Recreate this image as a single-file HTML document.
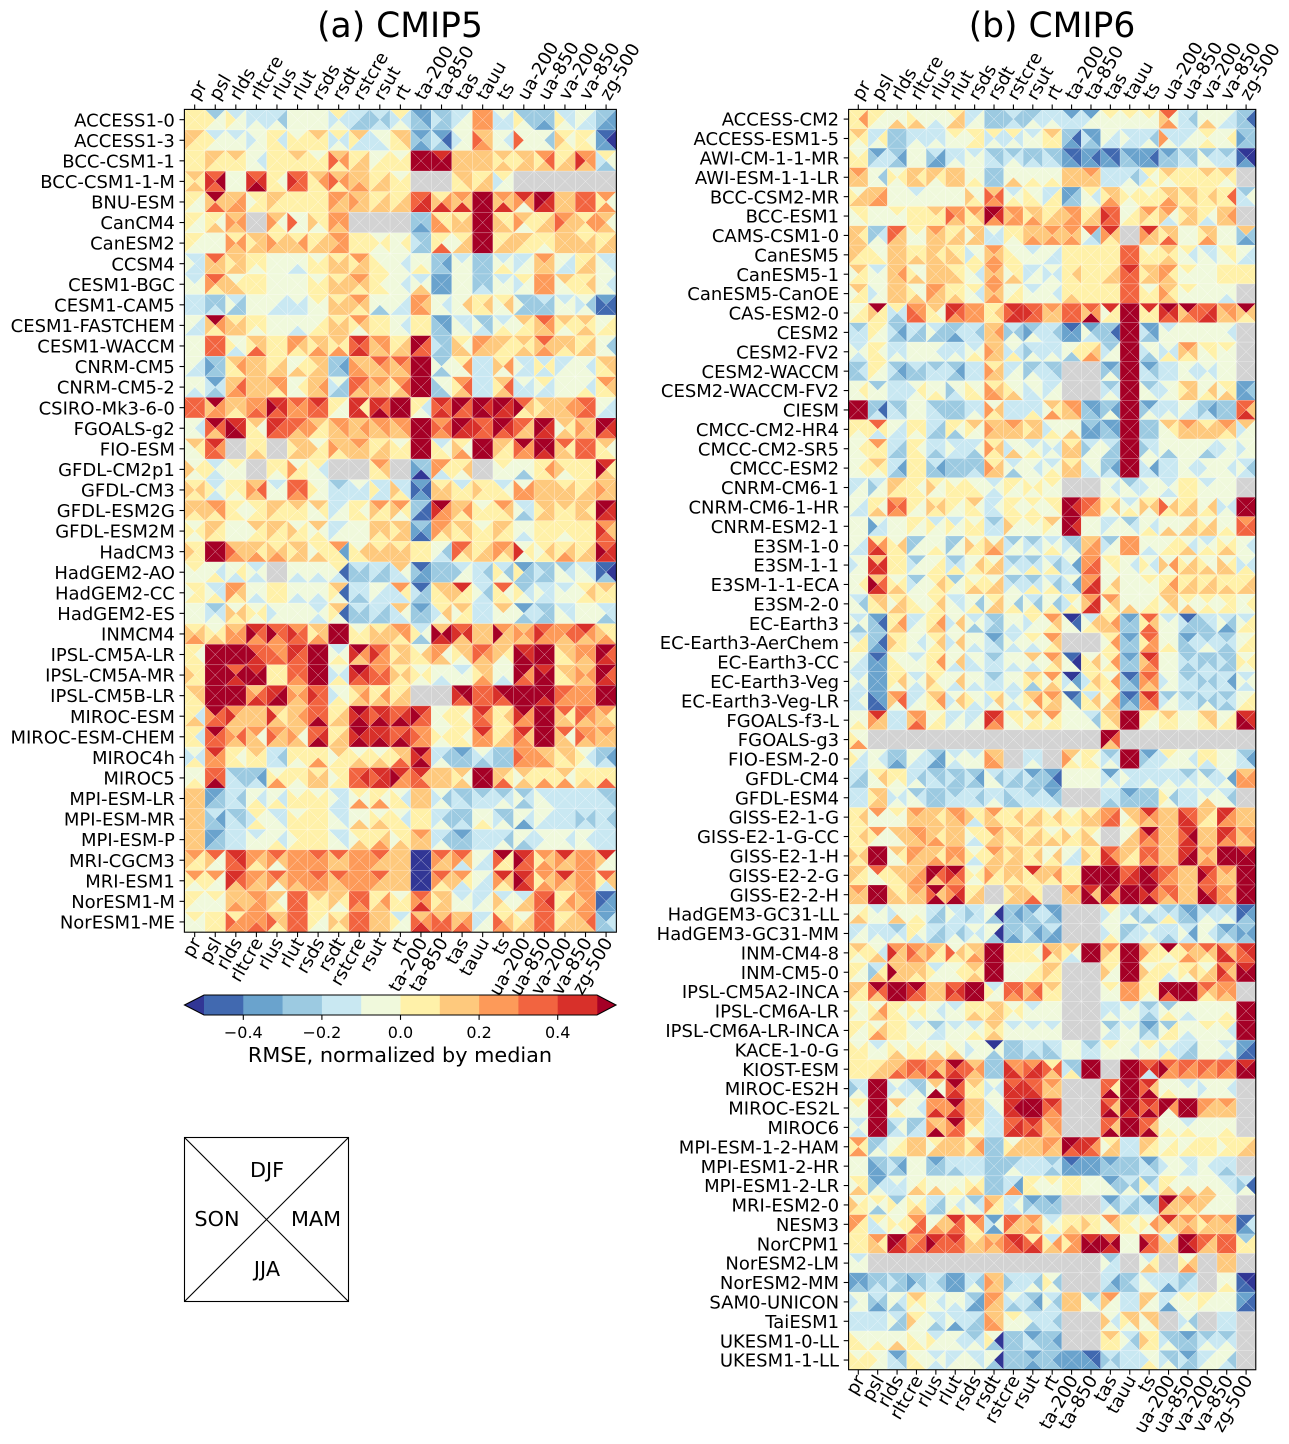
<!DOCTYPE html>
<html lang="en">
<head>
<meta charset="utf-8">
<title>CMIP5 and CMIP6 RMSE portrait plot</title>
<style>
html,body{margin:0;padding:0;background:#fff}
svg{display:block;font-family:"DejaVu Sans","Liberation Sans",sans-serif;fill:#000}
</style>
</head>
<body>
<svg id="chart" xmlns="http://www.w3.org/2000/svg" width="1289" height="1444" viewBox="0 0 1289 1444"></svg>
<script>
const n = null;
const variables = ["pr","psl","rlds","rltcre","rlus","rlut","rsds","rsdt","rstcre","rsut","rt","ta-200","ta-850","tas","tauu","ts","ua-200","ua-850","va-200","va-850","zg-500"];
const seasons = ["DJF","MAM","JJA","SON"];
const colorBins = ["#313695","#4169b0","#6aa3cd","#9ccae1","#c9e8f2","#f0f9dc","#fff1a9","#fec97d","#fd9a59","#f26440","#d8302a","#a50026"];
const colorbarTicks = [-0.4,-0.2,0,0.2,0.4];
const models5 = ["ACCESS1-0","ACCESS1-3","BCC-CSM1-1","BCC-CSM1-1-M","BNU-ESM","CanCM4","CanESM2","CCSM4","CESM1-BGC","CESM1-CAM5","CESM1-FASTCHEM","CESM1-WACCM","CNRM-CM5","CNRM-CM5-2","CSIRO-Mk3-6-0","FGOALS-g2","FIO-ESM","GFDL-CM2p1","GFDL-CM3","GFDL-ESM2G","GFDL-ESM2M","HadCM3","HadGEM2-AO","HadGEM2-CC","HadGEM2-ES","INMCM4","IPSL-CM5A-LR","IPSL-CM5A-MR","IPSL-CM5B-LR","MIROC-ESM","MIROC-ESM-CHEM","MIROC4h","MIROC5","MPI-ESM-LR","MPI-ESM-MR","MPI-ESM-P","MRI-CGCM3","MRI-ESM1","NorESM1-M","NorESM1-ME"];
const models6 = ["ACCESS-CM2","ACCESS-ESM1-5","AWI-CM-1-1-MR","AWI-ESM-1-1-LR","BCC-CSM2-MR","BCC-ESM1","CAMS-CSM1-0","CanESM5","CanESM5-1","CanESM5-CanOE","CAS-ESM2-0","CESM2","CESM2-FV2","CESM2-WACCM","CESM2-WACCM-FV2","CIESM","CMCC-CM2-HR4","CMCC-CM2-SR5","CMCC-ESM2","CNRM-CM6-1","CNRM-CM6-1-HR","CNRM-ESM2-1","E3SM-1-0","E3SM-1-1","E3SM-1-1-ECA","E3SM-2-0","EC-Earth3","EC-Earth3-AerChem","EC-Earth3-CC","EC-Earth3-Veg","EC-Earth3-Veg-LR","FGOALS-f3-L","FGOALS-g3","FIO-ESM-2-0","GFDL-CM4","GFDL-ESM4","GISS-E2-1-G","GISS-E2-1-G-CC","GISS-E2-1-H","GISS-E2-2-G","GISS-E2-2-H","HadGEM3-GC31-LL","HadGEM3-GC31-MM","INM-CM4-8","INM-CM5-0","IPSL-CM5A2-INCA","IPSL-CM6A-LR","IPSL-CM6A-LR-INCA","KACE-1-0-G","KIOST-ESM","MIROC-ES2H","MIROC-ES2L","MIROC6","MPI-ESM-1-2-HAM","MPI-ESM1-2-HR","MPI-ESM1-2-LR","MRI-ESM2-0","NESM3","NorCPM1","NorESM2-LM","NorESM2-MM","SAM0-UNICON","TaiESM1","UKESM1-0-LL","UKESM1-1-LL"];
// Each cell: one bin index for all seasons, or [DJF,MAM,JJA,SON]. Value = (bin + 0.5) / 10; null = missing.
const values5 = [
[0,[-3,-1,-1,0],[-2,-1,-1,0],[-2,-2,-1,-2],[-2,-3,-1,-2],-1,-1,[0,-2,-1,-2],[-2,-3,-3,-2],[-2,-3,-2,-3],[0,-2,-1,-2],[-4,-4,-3,-3],[-3,-3,-3,-2],[-2,-1,-1,-2],2,[-1,-2,-2,-2],[-3,-3,-1,0],[-3,-3,-4,-3],[-2,-2,-1,0],[-1,-2,-2,-1],[-3,-4,-4,-3]],
[[1,0,0,1],[-2,-1,-1,0],[-2,-1,-1,-1],[-1,-1,-1,-2],[0,-2,0,0],[-1,0,0,0],[1,0,0,0],[0,-2,-1,-2],[1,-2,-2,0],[-1,-1,-2,-2],[1,1,0,0],[-4,-3,-4,-3],[-4,-5,-3,-2],[-1,-1,-1,-2],[1,1,2,3],[-1,-2,-1,-1],[-1,-1,-1,3],[-1,-3,-1,-1],[0,-1,0,1],[0,-1,0,0],[-5,-6,-4,-4]],
[0,[1,0,0,1],[1,0,0,0],[-1,-2,-1,-1],[0,0,0,0],[1,0,0,0],[-1,0,0,0],[1,2,0,3],[0,1,1,0],[-1,0,0,-1],[-1,0,0,0],5,[4,5,5,5],1,1,[1,0,1,0],[1,1,1,0],[2,3,1,0],[0,1,1,0],[2,2,1,4],[0,-1,-3,-2]],
[[1,0,1,0],[3,5,3,4],-1,[3,4,5,4],[0,-1,0,0],[3,3,3,4],[1,2,0,0],[1,2,0,3],[1,1,2,1],[0,1,1,0],[-1,0,0,0],n,n,[1,1,0,0],[0,1,1,0],[0,-1,-1,-2],n,n,n,n,n],
[[0,-1,-1,0],[5,1,3,1],[1,2,2,1],[0,0,0,-1],[1,0,0,1],0,0,[2,1,1,2],[1,1,1,2],[0,1,1,0],[0,1,1,0],[3,4,4,3],[0,2,4,1],[2,1,4,1],5,[2,1,4,1],[4,2,-1,2],[5,4,4,5],[1,1,1,1],[3,3,3,3],[2,-1,2,0]],
[[0,-1,-1,0],[0,-1,1,0],[1,2,1,2],n,[1,-1,0,2],[-1,-1,-1,3],[0,0,-1,1],[2,2,1,2],n,n,n,[-3,-3,-4,-3],[0,0,2,2],[0,1,1,1],5,[0,0,1,1],[1,0,-1,2],[0,1,1,0],[2,1,1,3],[0,2,0,1],[1,-1,1,2]],
[[0,-1,-1,0],-1,[0,2,1,2],[1,1,1,0],[0,1,1,2],[0,2,1,1],[0,1,1,0],[2,2,2,1],[0,0,0,0],[-1,0,-1,0],[-1,0,-1,-1],[-3,-3,-3,-2],[0,-1,3,0],[0,1,1,-1],5,[0,1,1,0],[1,0,0,1],[0,0,-1,0],[1,1,1,1],[0,1,1,1],[0,1,1,0]],
[[-2,-2,-2,-1],[3,1,1,1],[1,1,1,0],[0,0,-1,0],-1,[-1,-1,-2,-1],[-1,0,0,0],[0,1,1,1],[2,1,1,0],[-1,-1,0,0],[-1,-2,-1,-1],[-1,-1,0,-1],[-3,-4,-3,-3],[-2,-1,-1,-1],[-3,-3,-3,-3],[-2,-1,0,-1],[-2,-1,-1,-2],[2,1,1,1],[-1,-2,-2,-1],[0,1,1,0],[-2,-2,-1,-1]],
[[-2,-1,-1,-1],[3,1,0,2],[-1,0,1,1],[0,0,0,0],-1,-1,[-1,0,0,0],[0,1,1,1],[2,1,0,1],[0,-1,0,0],[-1,-2,-1,-1],[-2,-1,1,-1],[-4,-4,-4,-4],[-1,-1,-1,-1],[-3,-3,-2,-3],[-2,-1,-1,-1],[0,-1,-1,-2],[2,2,2,2],[1,0,-1,-1],[0,1,0,0],[-1,-2,-1,-1]],
[-2,[-3,-3,-2,-3],[-2,-3,-3,-1],-1,[-1,-2,-2,-1],[-1,-2,-2,-2],[0,-1,-1,-1],[0,1,1,1],[2,1,0,1],[-1,-1,-3,-1],[-1,-2,-2,-1],[2,1,2,2],[-1,-2,-1,-1],[-1,1,-1,-1],[0,1,0,0],[0,1,-1,-1],[-3,-3,-3,-1],[-2,-3,-3,-3],[-2,-1,-1,-1],[-1,-3,-1,-2],[-4,-5,-5,-5]],
[[-1,-2,-2,-1],[5,2,0,1],[0,1,1,1],[0,0,-1,0],-1,[-1,-1,-2,-1],[-1,0,0,-1],[0,1,1,1],[2,1,-1,0],[0,0,0,0],[-1,-2,-1,-1],0,[-4,-4,-3,-3],[-2,-2,-1,-1],[-3,-3,-2,-1],[-2,-1,0,-1],[1,0,0,-1],[3,2,1,1],[1,0,-1,0],[1,0,1,0],[-1,0,0,-1]],
[-1,[3,3,3,3],[-1,-1,-2,0],[1,1,3,0],0,[2,1,0,2],[1,1,2,0],[1,0,2,0],[4,3,4,3],[2,2,1,1],[0,1,1,0],[5,3,3,5],[-3,-3,-3,-2],[0,-1,1,1],[2,1,1,2],[1,0,0,1],[1,0,1,0],[3,1,2,1],[1,1,0,1],[0,1,1,0],[-1,-3,-1,-1]],
[[-1,-2,-2,-1],[-3,-3,-3,-4],[1,2,0,0],[1,1,1,1],[0,1,1,0],[-1,0,1,-1],[1,1,1,0],[-3,-4,-3,-3],[1,1,2,2],[3,2,1,1],[3,2,1,1],[5,5,5,5],[-3,-1,-3,-1],[0,2,-1,-1],-2,[0,2,-1,1],[-2,-2,-2,-1],[-2,0,-2,0],[-2,-1,-1,-2],[-1,-2,-1,-1],[1,1,0,0]],
[[-1,-1,-2,-1],[-4,-2,-3,-2],[1,3,2,1],[1,1,1,1],[2,2,0,1],[-1,0,-1,-1],[1,2,1,1],[-1,-3,-3,-2],[3,2,1,3],[2,1,1,1],[2,3,1,0],5,[-1,-1,-3,-3],[2,3,1,0],[-2,-2,-2,-2],[1,3,1,0],[-1,-2,-2,-2],[0,-2,-2,-1],[-1,-1,-1,-1],[-1,-2,0,-1],[2,1,0,0]],
[[3,3,3,3],[5,2,2,1],[1,1,0,1],[2,2,3,2],[4,4,3,5],[3,2,2,2],[4,3,3,3],[0,-1,-1,0],[4,0,4,4],[4,3,5,4],[5,5,5,5],[0,-2,-1,0],[4,3,4,3],[5,3,3,5],[5,4,5,5],[5,4,4,5],[3,1,0,5],[1,1,1,0],[1,2,1,1],[3,3,3,2],[-1,-2,-2,-1]],
[[-1,-2,-1,-1],[5,3,1,3],[4,4,5,5],[1,-1,0,0],[4,3,3,4],[3,2,1,3],[1,0,0,2],[2,2,1,1],[1,2,1,1],[2,2,1,1],[2,2,1,1],5,[2,3,2,3],[5,4,4,5],[3,3,3,4],[5,4,3,5],[3,1,1,3],[5,4,4,5],[1,0,1,-1],[1,1,1,2],[5,4,3,5]],
[[1,0,-1,-1],[4,2,3,3],n,[0,0,1,0],n,[1,1,1,0],[-1,0,0,1],[1,1,0,2],[2,1,1,1],[0,1,1,0],[-1,0,0,0],5,[-2,-1,0,0],[0,-1,2,1],5,[1,0,0,1],[5,2,2,3],[5,5,4,5],[3,0,1,1],[3,3,3,3],[1,-1,0,0]],
[[-1,0,-1,1],[-2,-1,-2,0],[0,-1,-1,-1],n,[0,0,-1,0],[-1,0,0,2],[0,-2,-1,-1],n,n,[2,1,0,0],n,[-3,-3,-6,-4],[2,0,-2,2],[0,1,-1,0],n,[0,-1,-1,-1],[-1,-1,-3,-1],[0,2,0,0],[0,0,-1,1],[0,0,0,0],[4,0,1,5]],
[[0,1,0,1],[-2,-1,-2,0],[0,0,-1,0],[1,3,1,2],[-2,-1,-1,-1],[3,3,2,3],[-1,-1,-1,0],[-3,-2,-2,-2],[-1,-2,-2,-2],[-2,-2,-2,0],[-2,-2,0,1],[-4,-5,-4,-5],[0,1,1,1],[-2,0,0,0],[0,0,0,1],[-2,-1,0,0],[-1,2,2,2],[1,1,1,1],[0,1,1,1],[0,1,1,0],[1,1,1,2]],
[[1,1,0,1],[2,2,0,1],[0,-1,0,0],[0,0,0,-1],[1,0,0,1],[1,0,0,0],[1,0,-1,-1],[-2,-1,-1,-2],[0,-1,0,0],[2,0,0,1],[2,0,-1,1],[-3,-5,-5,-3],[5,2,2,4],[1,2,0,1],[-1,0,0,0],[2,1,0,0],[-2,-2,-3,-1],[1,1,1,0],[1,0,0,0],[1,0,1,1],[5,4,4,5]],
[[-1,0,-1,0],[1,0,0,1],-1,[1,0,0,-1],[1,0,0,1],[-1,0,0,1],[1,-1,0,-1],[-2,-1,-1,-2],[-1,-1,-1,-1],[1,1,0,1],[1,1,1,0],[-3,-4,-5,-4],[2,1,0,2],[1,1,0,0],[-1,0,0,0],[1,0,0,1],[-1,-1,-2,-1],[0,0,0,0],[0,0,-1,0],[0,0,0,0],[2,1,3,4]],
[[0,0,0,1],5,[1,1,2,3],[1,0,2,1],[0,1,2,1],[1,1,1,0],[0,0,1,-1],[2,-4,0,0],[-1,1,0,0],[0,1,1,1],[0,1,1,1],0,[-1,-3,-2,-1],[3,1,0,3],[0,1,1,0],[2,1,0,2],[-1,0,-1,4],[0,1,0,-1],[0,1,2,0],[0,1,1,0],[3,4,4,5]],
[[0,-1,-1,-1],[-1,-2,0,-1],[-1,0,-2,-1],[-2,-1,-2,-1],n,[-1,-1,-2,-1],[-1,-1,-2,-1],[0,-5,-2,-1],[-2,-3,-3,-3],[-2,-3,-3,-2],[1,-1,-2,-2],[-5,-4,-4,-3],[-3,-3,-3,-3],[-2,-1,-1,-3],[-2,-3,-2,-2],[-2,-3,-1,0],[-4,-3,-3,0],[-3,-3,-3,-2],[-3,-2,-1,-1],[-2,-2,-1,-1],[-5,-6,-3,-5]],
[[0,0,0,-1],[-2,-2,0,-1],[2,1,0,2],[-1,-1,-2,-1],0,[-1,-1,-2,-1],[-1,-1,-2,-1],[1,-5,-1,0],[-2,-2,-3,-2],[-1,-2,-2,-1],[2,0,-2,-2],[-5,-3,-3,-2],[1,1,0,0],[4,0,0,1],[-2,-3,-2,-1],[3,-1,0,0],[-3,-2,-1,0],[-2,-2,-2,-1],[-2,-1,-1,-1],[0,1,0,-1],[1,0,0,0]],
[-1,[-3,-2,-1,-2],[-1,1,0,1],[-1,0,-1,0],[-1,-1,-1,-2],-1,[-2,-1,-2,-1],[1,-5,-1,0],[-2,-3,-3,-3],[-2,-3,-3,-2],[1,-1,-2,-2],[-4,-3,-3,-3],[0,1,-1,-2],[1,0,0,-1],[-2,-2,-2,-2],[1,-1,-1,-1],[-4,-2,-3,-1],[-3,-3,-3,-2],[-2,-2,-1,-1],-1,[-2,-2,-3,-1]],
[[0,1,2,1],[-1,0,1,0],[1,2,2,2],[4,3,2,5],[3,3,2,5],[2,3,3,4],[1,1,2,0],5,[-1,0,0,0],[0,1,1,1],[2,2,0,1],[-2,-1,-3,0],[1,5,4,5],[3,4,1,4],[1,1,1,1],[2,1,1,5],[1,2,1,2],[3,2,2,4],[2,3,1,2],[4,2,1,3],[0,0,2,1]],
[[0,-1,0,0],5,5,[3,3,4,5],[2,2,3,3],[4,3,3,4],5,[-2,-1,0,-1],[5,2,1,4],[3,2,2,4],[1,1,1,0],[-1,1,0,0],[2,-1,1,2],[1,1,-1,0],[3,2,1,3],[1,0,-1,1],[4,4,5,5],5,[1,1,0,0],[2,2,1,2],[5,3,4,5]],
[[0,0,0,1],5,[3,5,4,5],[4,5,5,5],0,[3,3,2,3],5,[-1,-2,0,-2],[5,4,3,4],[2,3,3,3],[0,1,0,1],[-1,0,-1,0],[-1,-1,-2,-1],[-2,-1,-1,-1],[1,1,2,0],[-1,-1,-2,-1],[5,2,3,5],[4,5,5,5],[1,1,0,0],[1,2,1,2],[5,3,4,5]],
[[1,1,0,0],5,[5,5,5,5],[1,3,4,2],[4,5,5,4],[1,2,1,2],[3,3,3,4],[-1,-1,0,-2],[1,2,1,0],[0,2,1,0],[0,1,1,0],n,n,[5,5,3,4],[3,3,3,3],[5,5,3,4],5,[5,5,4,5],[3,2,2,3],[2,2,2,2],5],
[[0,-2,1,0],[5,3,3,2],[2,1,1,4],[1,1,1,1],[1,0,1,4],[1,2,1,1],[3,3,5,3],[0,1,1,0],[5,4,5,4],[4,4,5,3],[3,4,5,3],[4,3,3,5],[-1,0,-1,-1],[0,-1,0,0],[4,2,3,3],[0,1,0,0],[5,2,2,4],5,[3,0,1,1],[3,2,1,3],[2,0,1,1]],
[[0,-2,0,0],[5,3,3,3],[1,3,1,2],[2,-1,1,1],[2,1,1,3],[1,-1,1,2],[3,4,5,3],[0,1,1,0],[5,4,5,4],[4,4,5,4],[3,4,5,3],[2,2,2,3],[-1,0,-1,0],[0,-1,0,0],[4,2,2,2],[0,1,1,0],[4,1,2,3],5,[3,-1,1,1],[2,2,1,3],[2,1,1,1]],
[[-1,-2,0,-2],[4,2,2,2],[0,-1,0,0],[1,0,0,0],[-2,-3,-2,-2],[0,0,-1,0],[0,0,2,0],[1,0,0,-1],[-1,0,1,0],[-1,0,1,0],[1,1,3,0],[5,3,5,4],[-2,-3,-1,-2],[-4,-3,-3,-3],[-1,-2,-3,-2],[-3,-3,-3,-3],[2,2,2,3],[1,1,2,2],[1,1,0,0],[-1,-2,-1,0],[-3,-4,-2,-3]],
[[-1,-1,0,-1],[3,3,5,3],[-3,-3,-2,-2],[-3,-4,-2,-3],[-1,0,2,0],[0,0,-1,0],[0,1,1,1],[0,0,0,-1],[3,4,3,3],[4,4,4,3],[4,2,2,5],[4,1,3,3],[1,1,1,1],[1,-1,1,0],5,[1,0,3,1],[1,0,1,-1],[0,0,2,0],[1,-1,2,0],[0,0,1,0],[0,0,3,0]],
[[1,1,1,1],[-4,-3,-3,-4],[-2,-3,-2,-2],[-1,-2,0,-1],[-1,-2,0,-1],[-1,0,0,0],[-1,0,0,0],[-2,-2,-2,-1],[0,-1,2,-1],[0,-1,2,0],[-1,-2,0,0],[1,1,1,1],[-1,-3,-1,-2],[-3,-3,-2,-2],[-3,-2,-2,-2],[-3,-2,-1,-2],[-3,-2,-3,-1],[-2,-2,-1,-1],[-2,-2,-2,-2],[-2,-2,-2,-2],[-3,-3,-2,-2]],
[[1,1,1,1],[-2,-4,-3,-3],[-3,-3,-2,-2],[0,-1,0,-2],[-2,-2,-1,-1],[-1,0,0,0],0,[-2,-2,-1,-1],[-1,-1,1,-1],[-1,0,1,0],[-1,-2,0,0],0,[-2,-3,-1,-2],[-3,-3,-2,-3],[-1,-1,0,-1],[-3,-3,-1,-2],[-1,-2,-4,-1],[-1,-2,-2,-1],[-2,-2,-2,-2],[-2,-3,-2,-3],[-2,-3,-2,-2]],
[[1,1,1,1],[-4,-3,-3,-4],-2,[-2,-1,-1,-1],[-1,-2,0,-1],[0,0,0,-1],0,[-2,-2,-1,-1],[0,0,1,-1],[0,1,2,0],[0,0,1,-1],[2,1,1,1],[-2,-3,-1,-2],[-4,-3,-3,-3],[-2,-2,-2,-2],[-2,-3,-1,-2],[-1,-2,-3,-1],[-1,-1,-1,-2],[-1,-2,-1,-1],[-1,-2,-1,-1],-2],
[[2,0,0,1],[3,-1,-1,1],[4,4,3,3],[2,1,0,2],[3,1,-1,2],[2,2,2,2],[3,2,2,2],[3,1,1,1],[2,2,2,2],[3,1,1,2],[1,1,1,1],-6,[3,1,1,2],[3,1,-2,2],[-1,-2,-2,-1],[5,0,0,3],[4,3,3,5],[2,1,2,0],[4,1,1,2],[2,2,2,2],[4,-1,-1,1]],
[[2,0,-1,0],[2,-1,-1,0],[4,3,1,4],[2,1,1,2],[3,1,-1,2],[2,2,1,2],[3,2,2,2],[3,2,1,1],[2,2,2,2],[3,1,1,2],[1,1,1,1],-6,[3,1,0,2],[2,0,-2,1],[-1,-2,-2,-1],[4,1,0,2],[4,3,4,5],[2,1,2,0],[4,1,1,2],[2,2,2,2],[3,1,-2,0]],
[[0,-1,-1,0],[0,-1,-1,-1],[1,1,2,1],[2,2,2,1],[1,-1,0,1],[3,3,3,3],[1,0,0,0],[1,0,-1,1],[3,3,2,3],[0,2,1,0],[-1,0,0,0],[3,2,4,2],[1,1,1,0],[-2,-1,-1,-1],[-2,-1,-1,-2],[-2,-1,0,1],[-2,1,1,-1],[3,4,3,3],[0,2,1,0],[2,2,2,1],[-5,-4,-4,-5]],
[[0,-1,-1,-1],[0,0,0,0],[0,2,2,3],[2,2,3,2],[1,1,0,3],[3,3,3,3],[0,-1,-1,0],[0,1,0,1],[3,3,3,3],[1,1,1,1],[-2,-1,-1,0],[1,2,4,3],[1,3,3,3],[1,2,3,1],[-2,-1,-1,-2],[0,1,2,3],[-1,1,1,0],[3,3,3,3],[0,1,1,0],[2,3,1,1],[-4,-2,-3,-3]]
];
const values6 = [
[[0,2,0,0],[0,-1,-1,0],[-1,-1,1,-1],[-1,-1,1,0],[-1,-1,-2,-1],[0,1,1,-1],[-2,-1,-1,-2],[-3,-3,-3,-3],[-2,-3,-2,-3],[-3,-2,-1,-3],[-2,-2,-1,-2],[-4,-2,-2,-2],[-4,-1,-1,-2],[0,-1,-1,-1],[0,-1,-1,-1],[0,-1,-1,-1],[3,-1,2,1],[-2,-3,-2,-2],[-1,-1,1,-1],[-1,-2,-2,-1],[-3,-5,-3,-3]],
[[1,0,-1,0],[-2,0,-1,-2],-3,[-2,-2,-1,-2],[-2,-2,-1,-2],[0,-1,-1,-1],[0,0,0,-1],[0,-2,-1,-2],[0,-2,-1,-2],[-2,-1,-1,-1],[1,0,0,0],[-3,-5,-4,-3],[-4,-4,-3,-2],[-1,-2,-2,-1],[-2,-2,-2,-1],[-2,-3,-1,-2],[-2,-2,-1,2],[-2,-1,-1,-2],[0,-1,0,-1],[-1,0,-1,-1],[-3,-3,-3,-4]],
[[-1,0,0,0],[-4,-2,-2,-3],[-3,-4,-3,-2],[-1,-1,-1,-1],[-2,-4,-4,-3],[-2,-2,-1,-2],[-2,-1,-1,-1],[-3,-3,-2,-2],[-3,-2,-1,-2],[-3,-3,-2,-3],[-3,-3,-2,-2],[-5,-5,-4,-4],[-4,-5,-4,-4],[-5,-5,-4,-4],[-4,-4,-3,-3],[-4,-5,-4,-4],[-4,-3,-3,-3],[-3,-3,-2,-2],[-3,-2,-1,-1],[-3,-2,-2,-2],[-6,-6,-4,-5]],
[[2,1,1,1],[-1,-3,-1,-1],[-1,0,-1,0],[1,0,1,1],[1,0,-1,1],[1,1,1,1],[-1,-1,0,-1],-3,[-1,-1,1,-1],[-1,-1,0,-1],[-1,-1,0,-1],[1,1,1,1],[2,1,1,1],-2,[-2,-3,-1,-2],[0,-1,0,-2],[1,0,-1,0],[0,0,0,0],[1,0,0,0],[1,0,-1,0],n],
[[-1,1,1,0],[1,2,2,1],[-1,-1,-1,-1],[-2,-1,-1,-1],-1,-1,[-1,-1,0,1],[1,3,2,3],[-2,-1,0,-1],[-1,-1,0,0],[-2,0,0,-2],[-4,-3,-3,-4],[0,-2,-1,-1],[1,1,2,0],[-1,0,-1,0],[-1,0,0,0],[1,1,2,0],[1,1,0,0],[0,1,0,0],[0,3,0,0],[-3,-1,-2,-2]],
[[0,0,-1,-1],-1,[0,-1,-1,-1],[0,0,0,0],[1,0,0,0],[2,2,1,3],[2,1,0,0],[5,4,2,5],[2,2,2,1],[1,1,2,0],[0,1,1,0],[2,2,2,1],[0,1,1,0],[3,3,3,4],[-1,0,0,-1],[2,0,0,1],[2,-1,-2,1],[1,1,1,0],[0,-1,-2,0],[1,2,1,1],n],
[[1,0,1,1],[-3,-2,-1,-3],[3,1,1,3],[0,-1,-1,-1],[2,1,1,1],[0,1,1,0],[1,1,1,-1],[-1,-2,-2,-2],[0,0,-1,0],[1,1,2,1],[2,1,2,1],[2,1,2,1],[3,-3,-2,-1],[4,1,0,2],n,[4,1,1,2],[1,1,3,0],-1,[1,1,2,0],-1,[1,-3,-4,-3]],
[[1,0,0,1],[-1,-1,0,0],[1,1,1,1],[0,0,1,0],[1,0,1,1],[0,0,1,1],[-1,-1,0,-2],[2,1,2,1],[-1,-1,0,0],[-2,-1,-1,-1],[-1,-2,-2,-1],0,0,0,3,[-1,0,0,0],[1,0,1,0],[0,-2,-1,-1],[-2,-2,-1,-1],[0,0,-1,-1],[-1,-2,-2,-1]],
[[1,0,0,-1],[-2,-1,-1,-1],[1,2,1,1],[-1,-1,1,0],[1,1,1,1],[0,0,1,1],[0,-2,-1,-1],[2,1,2,1],[0,0,1,-1],[-2,-1,-1,-2],[-1,-2,-1,-2],[0,1,0,0],0,[0,1,1,0],[4,3,3,3],[1,1,1,0],[2,0,1,2],[0,-1,-1,-1],[-1,-1,-1,-1],[0,0,0,0],0],
[[1,0,0,-1],[-1,-1,-1,-2],[1,1,1,1],[-1,-1,1,0],[2,1,1,2],[0,0,1,0],[0,-2,-1,-1],[2,1,2,1],[-1,0,0,-1],[-2,-1,-1,-1],[-1,-2,-1,-1],[0,0,1,0],0,[0,0,0,0],3,[-1,0,0,0],[1,0,1,2],[0,-1,-1,-1],-1,[-1,-1,-2,-1],n],
[[-1,0,0,-1],[5,0,0,1],[0,-2,-3,-2],[2,2,3,3],[1,-1,0,0],[4,3,2,4],[2,2,2,2],[0,1,0,0],[4,4,4,3],[3,3,3,4],[2,1,1,1],[3,3,3,3],[3,2,5,1],[4,0,0,-1],5,[4,0,0,0],[5,4,3,4],[5,3,2,1],[3,4,4,3],[2,2,1,1],[5,1,0,1]],
[[-3,-2,-2,-2],[0,-1,-1,0],[-3,-4,-3,-2],[-2,-3,-3,-2],[-2,-3,-3,-1],[-3,-2,-4,-3],[-2,-3,-2,-2],[1,2,1,1],[-2,-3,-1,-3],[-3,-2,-1,-4],[-2,-3,-2,-2],[-5,-4,-4,-4],[-4,-3,-2,-1],[-3,-5,-3,-3],5,[-4,-4,-3,-2],[-2,-1,-1,-1],[-1,-1,-1,-1],-1,[-1,-2,-1,-1],n],
[[-2,-1,-2,-1],[0,-1,0,0],[-2,-2,-1,-2],-1,[-1,-2,-1,-1],[-2,-2,-1,-2],[-2,-1,0,-1],[1,1,1,2],[-1,-2,0,-2],[-2,-2,-1,-3],[-2,-2,-1,-2],[-1,0,-3,-1],[0,1,2,0],[-3,-1,-1,-2],5,[-1,-1,-3,-2],[-1,-2,0,-2],[2,1,0,1],[0,0,-1,-1],[0,-1,-1,-1],n],
[[-3,-2,-3,-3],[0,-1,-1,0],[-3,-4,-3,-2],[-2,-3,-3,-3],[-3,-2,-2,-2],[-3,-4,-3,-2],-2,[0,1,1,2],[-2,-1,-1,-2],[-3,-2,-1,-3],[-3,-3,-2,-2],n,n,[-4,-3,-1,-3],5,[-4,-3,-2,-2],-2,[-1,-2,-1,-1],[-1,-2,-1,-2],-1,n],
[[-1,0,-1,-1],[-3,-1,-1,-1],-2,[-1,0,-1,-2],[-1,-1,0,-1],[-1,-1,-2,-3],[-1,-1,0,0],[0,1,2,2],[-1,-1,1,0],[-1,-1,-2,-2],[-2,-1,-1,-2],n,n,[-3,-2,-1,-2],5,[-3,-2,-1,-1],[-1,-1,-1,-2],[1,1,1,0],[-1,1,0,-1],[0,0,1,-1],[-4,-3,-4,-4]],
[[5,5,5,5],[-3,-5,-2,-3],[-3,-3,-2,-2],-1,[-3,-3,-2,-2],-3,[-2,-2,-1,-2],[-1,1,0,2],[-2,-2,-2,-2],[-2,-2,0,-2],[1,0,2,-1],[2,2,1,1],[-4,-4,-3,-3],[-3,-4,-1,-3],5,[-4,-2,-1,-3],[-2,-2,-1,-2],[-1,-2,-2,-1],[-3,-4,-2,-3],[-3,-3,-3,-3],[3,1,4,3]],
[[0,0,-1,0],[3,0,-2,0],[-1,-2,-2,-1],[0,0,-1,0],[-2,-3,-3,-2],[0,-1,-3,0],[1,-1,-1,0],[1,1,1,2],[2,1,1,1],[1,1,1,0],[-1,-1,0,-2],[-1,-1,1,-1],[-3,-4,-4,-4],[-4,-4,-3,-3],5,[-3,-3,-3,-3],[1,0,-1,-1],[2,1,1,1],[0,1,1,1],[2,1,0,1],[1,-1,-1,-2]],
[[-1,0,-1,-1],[2,0,0,0],[-2,-3,-3,-2],[0,-1,0,0],[-2,-2,-3,-2],[-2,-2,-2,-1],[-2,-1,-3,-2],[0,1,0,2],[-1,-1,1,-2],[-2,-1,0,-1],[-1,-2,-1,-2],[0,1,1,1],[-2,-1,-1,-3],[-2,-3,-3,-1],5,[-2,-2,-1,-3],[-1,-1,-3,-1],[-1,-1,-1,-1],[-1,-2,-3,-1],[-1,-1,-1,-2],[-1,-1,-1,-2]],
[[-1,0,-1,-1],[1,0,-1,0],[-2,-4,-3,-2],0,[-2,-4,-3,-3],[-3,-3,-3,-3],[-3,-3,-2,-3],[0,1,1,2],[-2,-1,-3,-1],[-1,-2,-1,-1],[-2,-1,0,-1],[0,1,1,1],[-1,-1,-2,-2],[-3,-4,-2,-3],5,[-1,-4,-2,-2],-2,[-1,-2,-1,-1],[-1,-1,-1,-2],[-1,-2,-1,-1],[-2,-3,-2,-1]],
[[-2,-1,-1,-2],[-2,-1,-1,-3],[1,0,0,1],[0,-1,0,0],[0,-1,-1,1],[-1,0,0,0],[-1,-1,0,0],[-2,-1,-2,-1],[0,-1,-1,0],[-1,0,-1,0],[0,-1,-1,-1],n,n,[-1,-2,-1,-1],[-3,-2,-1,-1],[-1,-1,-1,-2],[-2,-1,-2,-1],[0,0,0,0],[-2,-1,-1,-1],-1,n],
[[-1,-2,-2,-1],[0,-1,1,0],[2,3,2,3],[0,-1,-1,0],[0,1,0,1],[0,-1,-1,0],[1,-1,0,0],[-2,-1,-2,-2],[0,-1,0,0],[0,-1,0,-1],[0,0,-1,-1],[5,4,5,5],[3,2,2,3],[0,1,-1,0],[-2,-1,0,-1],[0,1,-1,1],[-1,1,0,3],[0,1,1,0],[-1,1,0,-1],[-1,-2,-1,-2],[5,5,5,5]],
[-1,[-1,-2,-2,-4],-1,[0,-1,-1,0],[-2,-1,-1,0],[-2,-1,-1,0],[-1,0,0,0],[-3,-2,-2,-2],[0,-1,-1,1],[0,-1,-1,-1],[1,-1,-1,0],[5,4,5,5],-1,[-2,-1,-1,-2],[-3,-2,-1,-1],[-1,-2,0,-1],[-1,-1,1,-1],[-1,1,1,-1],[-1,1,1,0],[-1,-1,0,-1],[2,3,3,3]],
[[-1,-2,-2,-1],[0,2,4,3],[-1,1,0,0],[-3,-1,-1,-3],[-1,-1,0,-1],[-3,-1,-1,-3],[-1,0,0,1],[-1,1,2,1],[-3,-1,-1,-2],[-3,-2,-1,-2],[-2,-1,0,-1],[-3,-3,-1,-2],[1,2,2,1],[-3,-1,-1,-2],[2,2,2,2],[-1,-1,-2,-1],[-1,0,0,-1],[-1,-2,1,0],[-2,-1,0,-1],[-1,0,1,0],[-1,-2,-1,-1]],
[[-1,-1,-1,-2],[1,4,4,4],[0,0,0,0],[-3,-1,-1,-2],[-1,0,0,-1],[-3,-2,0,-2],[-1,1,0,-1],[-1,1,1,0],[-3,-2,-1,-2],[-3,-2,0,-2],[-2,-3,0,-1],[-1,-4,-2,-2],[2,3,3,2],[0,0,-1,-1],[-1,-2,-1,-1],[-1,-2,-1,0],[-1,2,-1,1],[-1,1,1,0],[-1,-1,1,0],[-1,0,1,1],[-1,-2,0,-2]],
[[-1,0,-1,-1],[1,3,4,5],[-1,0,1,0],[-3,-1,-1,-2],[0,1,0,-1],[-3,-1,-1,0],[-1,0,1,0],[-1,1,1,0],[-3,-2,-1,-2],[-3,-2,0,-2],[-2,-3,0,-1],[-1,-4,-2,-2],[2,4,4,2],[-1,1,0,-1],-1,[0,-1,-1,-1],[0,2,1,0],[0,1,1,0],[0,1,1,0],[0,0,1,0],[0,1,1,0]],
[[-2,-3,-1,-1],[1,1,0,0],[0,1,1,-1],[-1,-1,0,0],[0,1,0,-1],[-2,-2,-1,-1],[-1,-3,0,-1],[0,1,1,-1],[-1,-3,0,-1],[-2,-3,0,-1],[-1,-3,0,-1],[0,-1,0,-2],[2,4,4,1],[2,1,0,-1],[-1,-1,1,-1],[-1,0,0,-1],[1,1,0,-1],[0,-1,1,-1],[0,-1,0,-1],[0,0,0,-1],[-1,0,-1,-1]],
[[-2,-1,-3,-1],[-4,-5,-3,-3],[0,2,1,0],[-2,-1,-1,-2],[0,2,1,0],[-1,1,-1,-2],[-2,-1,-3,-1],[-3,-3,-3,-2],[-1,-1,-2,-1],[0,-1,-1,-2],[2,1,0,-1],[-6,-5,-1,-1],[-2,1,0,-1],[0,2,1,1],[-4,-3,-3,-3],[3,1,3,0],[-2,-1,-1,-1],[-5,-3,-3,-2],[-2,-2,-3,-3],[-2,-3,-4,-1],[-2,0,0,-1]],
[[-2,0,0,-1],[-3,-5,-4,-3],[0,0,0,1],[-1,-2,-1,-1],[0,1,0,-1],[-1,1,-1,-2],[-1,-1,-2,-1],[-4,-3,-2,-2],[-2,-1,-2,-1],[0,-1,-2,-1],[2,1,0,-1],n,n,[0,2,0,-1],[-4,-3,-3,-3],[3,2,2,0],[-1,-1,0,-1],[-4,-2,-3,-3],[-3,-2,-1,-2],[-3,-2,-3,-2],[-1,0,0,-1]],
[[-1,-2,-2,-1],[-5,-4,-4,-4],[-1,-1,0,0],[-2,-1,-1,-1],[0,2,0,0],[-1,1,-2,-1],[-1,-1,-2,-2],[-3,-2,-2,-2],[-1,-1,-2,-1],[1,-1,-2,-1],[2,1,0,-1],[-5,-6,-1,-1],[-1,1,0,0],[0,2,0,-1],[-4,-3,-3,-3],[4,3,2,1],[-1,-1,-1,-1],[-3,-2,-3,-2],[-3,-3,-2,-3],[-3,-3,-3,-2],[-1,0,-1,0]],
[[-2,-1,-2,-1],[-4,-4,-4,-4],[0,1,-1,0],[-2,-1,-2,-1],[0,-1,0,1],[-1,1,-2,-1],[-1,-1,-2,-1],[-3,-2,-2,-2],[-1,-1,-2,-1],[1,0,-3,0],[2,0,1,-1],[-6,-4,-1,-2],[0,1,0,-2],[-1,2,0,0],[-5,-4,-3,-3],[3,2,1,2],[-1,-1,-1,-2],[-3,-2,-2,-2],[-2,-3,-2,-3],[-2,-4,-2,-2],[-2,-1,-2,-1]],
[[-2,-1,-2,-2],[-4,-4,-5,-5],[2,3,-1,1],[-2,-1,-1,-2],[1,2,0,0],[-1,1,-1,-2],[-1,-1,-2,0],[0,1,-1,-2],[-2,-1,-2,-1],[1,2,-1,0],[2,1,1,0],[-5,-4,-1,-1],[-2,1,0,0],[0,2,1,-1],[-5,-4,-3,-4],[4,3,2,2],[-3,-1,-1,-2],[-3,-2,-2,-2],[-2,-3,-1,-3],[-3,-2,-3,-2],[-1,0,0,-1]],
[[-1,-1,0,-1],[4,1,1,2],-2,[2,2,3,1],[-1,0,0,-1],[-2,-1,-1,-2],[-2,-1,-1,-2],[4,3,2,4],[0,0,-1,-1],[1,0,0,-1],[2,0,0,-1],[-1,-1,-1,-1],[-2,-3,-1,-1],[1,1,0,0],5,[0,-1,-1,0],[1,0,0,0],-1,[1,1,0,0],[-1,0,0,-1],[4,4,5,5]],
[[-1,-1,2,0],n,n,n,n,n,n,n,n,n,n,n,n,[5,3,1,5],n,n,n,n,n,n,n],
[[-1,-2,-2,0],[-1,-2,-1,-1],[-3,-3,-4,-3],[-1,-2,-2,-1],[-3,-4,-4,-2],[-2,-1,-2,-1],[-2,-1,-1,-1],[1,1,2,2],n,[-2,-2,-1,-2],n,[1,-1,0,2],[0,-1,0,0],[-3,-2,-1,-2],5,[-4,-2,-2,-3],[0,-1,-1,-2],[-1,-2,-1,-1],[0,0,-2,0],-1,[-3,-4,-2,-2]],
[[-2,-3,-3,-2],[0,1,-1,-1],[0,0,-1,0],[-2,-3,-1,-2],[-3,-3,-2,-2],[-3,-3,-3,-2],[-3,-4,-3,-2],[-2,-3,-1,-1],[-2,-3,-3,-2],[-4,-3,-3,-2],[-4,-5,-4,-3],-1,-1,[-4,-2,-1,-2],[-2,-2,-2,-1],[-2,-2,-1,-2],[-2,-2,-1,-2],[-3,-2,-1,-2],[-3,-2,-1,-1],[-1,-4,-1,-2],[1,2,2,2]],
[[-2,-2,-2,-2],[1,1,1,0],[-1,-2,-1,-2],[-3,-2,-1,-1],-3,[-3,-2,-2,-2],[-2,-3,-2,-2],[-2,-2,-1,-2],[-2,-2,-3,-3],[-3,-2,-2,-2],[-4,-3,-2,-2],n,n,[-2,-2,-3,-2],[-4,-3,-3,-3],-3,[-1,-3,-1,0],[-2,-2,-2,-2],[-2,-1,1,-1],[-2,-3,-1,-1],n],
[[0,1,0,0],[2,-1,-1,-1],[0,-1,-1,-1],[2,1,1,1],[1,0,1,1],[2,2,1,1],[0,0,-2,1],[2,0,1,1],[0,1,0,0],[0,1,1,0],[-1,1,0,0],[-1,0,0,0],[0,1,1,1],[2,3,3,2],[1,1,0,-1],[4,2,1,2],[1,1,1,1],[3,3,4,4],[1,0,0,1],[4,2,2,4],1],
[[0,1,0,0],[2,-1,-1,0],[1,1,-1,-1],[2,2,1,1],[1,0,2,1],[1,1,1,1],[0,0,-2,-1],[2,1,1,0],[1,1,0,0],[0,1,1,0],[-1,0,1,0],[-1,0,0,1],[0,-1,1,1],n,[-1,1,1,-1],[5,3,2,3],[1,1,1,1],[4,5,4,3],[1,1,1,1],[4,3,2,4],[2,2,1,1]],
[[0,1,0,1],5,[1,0,-1,-1],[2,1,1,2],[1,0,2,1],[2,2,1,2],[-1,0,-2,0],[2,1,1,0],[1,1,1,0],[0,1,0,0],[-1,1,0,-1],[-1,-2,-2,-1],[0,0,0,1],[3,2,4,4],[1,0,0,1],[3,3,2,3],[1,1,1,1],[4,5,5,4],[2,1,2,1],5,[4,5,5,5]],
[[1,0,0,1],[3,0,-1,-1],[1,1,0,0],[1,2,2,1],[5,3,1,5],[5,3,2,4],[-1,0,-1,0],[1,0,0,2],[1,1,0,1],[4,1,0,0],[1,2,0,1],[0,0,0,0],5,5,[3,4,4,3],[5,4,5,5],[3,2,2,3],[1,1,1,1],[4,3,3,5],[2,1,1,1],5],
[[2,1,1,1],5,[0,0,1,1],[2,1,1,1],[5,1,5,3],[3,4,5,2],[0,1,1,0],n,[1,1,1,0],[0,0,3,1],n,[2,1,1,1],[4,1,5,5],[5,2,4,5],[5,5,5,5],[5,3,5,4],[3,3,1,2],[1,1,1,1],[3,4,5,5],[2,1,2,2],5],
[[-1,0,1,-1],[-2,-1,-1,-1],[-1,-1,1,-2],[-1,-1,0,-1],[-2,-3,-3,-2],[-2,-2,-2,-1],[-2,-2,-2,-3],[-1,-6,-3,-1],[-3,-4,-3,-3],[-4,-2,-3,-3],[-4,-4,-3,-2],n,n,[0,-1,-1,-2],[-2,-3,-1,-2],[-1,-2,-3,-2],[-3,-2,0,-2],[-4,-4,-3,-3],[-3,-2,-1,-2],[-3,-2,-1,-2],[-5,-4,-3,-5]],
[[-2,-1,-1,-2],[-2,-2,-1,-2],[-3,-2,-1,-2],[0,-1,-2,0],[-2,-3,-3,-2],[-2,-3,-1,-2],[-1,-2,-1,-2],[-1,-6,-3,-1],[-3,-3,-4,-3],[-3,-4,-3,-2],[-2,-4,-4,-3],n,n,[-1,-1,0,-2],[-3,-2,-2,-3],[-1,-2,-1,-2],[-2,-2,-3,-2],[-2,-4,-2,-1],[-1,-2,-1,-1],[-4,-3,-2,-3],[-3,-4,-3,-4]],
[[1,0,-1,0],[-1,-2,1,0],[2,1,1,4],[2,1,2,3],[1,0,0,2],[-1,1,0,3],[1,1,2,0],5,[0,0,0,0],[0,-1,0,0],[1,1,0,3],[1,-1,-2,0],5,[2,0,0,1],5,[1,0,0,2],[5,0,-1,0],[2,1,2,0],[3,1,0,1],[2,1,4,4],[4,4,3,3]],
[[0,-1,-1,0],[-2,0,1,-3],[1,1,1,5],[1,1,0,1],[-2,-1,-1,0],[-1,0,-1,-1],[1,0,1,0],5,[-1,-1,-1,-1],[-1,0,0,-1],[1,0,0,1],n,n,[0,-1,-1,1],5,[-1,0,0,1],[0,-1,-2,0],[0,1,-1,0],[-1,1,1,0],[2,1,3,4],[4,5,5,5]],
[[1,0,0,1],[5,3,1,3],5,[5,3,3,4],[1,1,1,1],[3,4,3,4],5,[-2,-1,-1,0],[3,3,2,3],[2,3,2,1],[1,0,0,0],n,n,[0,-1,-1,-1],[2,2,2,2],[0,0,-1,0],[5,5,3,5],5,[3,1,0,2],[2,2,1,2],n],
[[-1,-1,-1,0],[-1,2,1,0],[0,-1,0,0],[-1,0,-1,0],[-1,-2,-1,-1],[-2,-1,-1,-1],[0,0,1,0],[1,1,1,0],[-1,0,-1,0],[-2,-1,-1,-1],[-1,-1,-1,-1],n,n,[-2,-2,-1,-2],[-2,-1,-1,-1],[-3,-2,-3,-2],[-3,-1,0,-1],[-1,-1,-2,-1],[-1,-1,-1,-1],[-1,-1,0,-1],5],
[[0,-1,-1,0],[-1,1,2,0],[0,0,0,0],[-2,-1,-1,-1],[-3,-2,-2,-1],[-2,-1,-1,-1],[-2,-1,0,-1],[1,0,1,0],[-2,-1,-1,-1],[-2,-1,-1,-1],[-2,-1,-1,-1],n,n,[-3,-2,-2,-1],[-2,-1,-1,-1],[-4,-3,-2,-3],[-3,0,0,-1],[-1,-1,-2,-1],[0,-1,-1,-1],[0,-2,-1,-1],5],
[[-1,0,0,0],[-2,-1,-1,-1],[-1,-1,1,0],[-1,0,0,0],[-1,-1,1,-1],[-1,-1,1,0],[-1,-1,-1,-2],[-6,-1,-3,-1],[-3,-3,-3,-3],[-2,-2,-3,-2],[-2,-2,-3,-3],[-1,-1,-1,-1],[-3,-2,-2,-2],[0,-1,-1,-1],[-1,-2,-1,-1],[0,-1,-1,-1],[-1,-2,0,-2],[-2,-3,-3,-2],[-1,-1,-1,-1],[-2,-1,-2,-1],[-4,-5,-5,-4]],
[[0,0,0,0],[0,1,1,0],[1,2,3,1],[3,3,2,3],[2,1,4,2],[5,3,4,3],[1,2,1,3],-3,[2,2,4,4],[2,4,4,3],[0,3,1,3],[-3,-3,0,-2],[5,5,5,5],n,[5,5,5,5],[3,4,-2,4],[3,2,2,5],[3,2,2,3],[3,2,2,3],[3,2,2,3],[4,5,5,5]],
[[-2,-2,-1,-3],5,[-1,-2,-1,-2],[-3,-3,-1,-2],[1,-1,5,-1],[5,3,4,3],[1,0,0,0],[-1,-2,-1,-2],[3,4,4,4],[3,3,4,4],[2,1,1,1],n,n,[3,0,5,3],[5,5,5,5],[4,1,5,3],[-1,-1,0,-1],[-2,-1,-1,-1],[-1,-1,-1,-2],[-1,-2,-1,-1],n],
[[0,-1,-1,-1],5,[1,-1,0,-1],[-1,-2,-1,-1],[2,2,4,2],[5,3,4,2],[1,1,1,1],[-1,-1,-2,-2],[4,5,4,4],[5,5,5,5],[4,3,2,3],n,n,[3,1,5,4],[5,5,4,5],[4,3,5,3],[5,2,-1,5],5,[2,1,1,2],[2,1,1,1],n],
[[-2,-1,-2,-1],5,[-2,-1,-2,-3],[-3,-2,-2,-3],[1,1,5,2],[5,3,3,2],[1,0,-1,0],-2,[3,4,4,3],[4,3,4,3],[2,2,1,1],n,n,[3,1,5,3],[5,5,5,5],[3,1,5,3],[-1,-1,0,-1],[-2,-1,0,-1],[-1,-1,-1,-1],[-1,-1,0,-1],n],
[[2,0,2,0],[-3,-2,-1,-3],[-1,0,0,-1],1,[0,1,1,-1],[1,1,1,1],[1,2,1,0],[-3,-3,-3,-3],[-1,1,1,0],[1,1,1,1],[2,1,1,2],[5,4,3,5],[4,2,3,4],[0,1,1,-1],-2,[1,0,0,1],[-1,0,0,-1],[-1,0,0,-1],[0,0,0,0],[0,0,0,-1],[0,1,1,0]],
[-1,[-3,-3,-4,-4],[-3,-4,-3,-2],-1,[-4,-3,-3,-3],[-2,-2,-3,-2],[-2,-2,-2,-2],-3,[-3,-2,-1,-3],-2,[-3,-2,-3,-2],[-5,-4,-4,-4],[-4,-4,-4,-4],[-4,-3,-3,-3],[-3,-3,-3,-3],[-4,-3,-2,-2],[-1,-1,-1,-2],[-2,-2,-2,-1],[-1,-2,-1,-1],[-2,-2,-3,-2],n],
[[0,0,1,-1],[-4,-2,-1,-3],[-1,-2,-2,-2],[-1,0,1,-1],[-1,-1,1,-1],[-1,-1,0,-1],[-1,0,1,0],-3,[-2,-4,2,-2],[0,-1,0,0],[0,-1,-1,-1],0,[-1,-1,-1,-1],[-4,-3,-1,-1],[-2,-3,-1,-3],[-3,-2,-1,0],[0,-1,1,0],[-1,-1,1,-1],[-1,-1,1,-1],[-2,-2,-1,-1],[-2,-5,-1,-3]],
[[-1,0,0,1],[0,-1,-3,-1],[-3,-1,-1,0],[-1,0,1,0],[-2,-3,-3,-2],[-1,-2,0,-1],[-3,-2,-1,-1],[1,0,0,2],[-2,-1,-2,-2],[-4,-3,-2,-3],[-4,-3,-3,-3],n,n,[-4,-3,-1,-2],[-2,-3,-3,-2],[-4,-3,-2,-2],[5,1,1,4],[2,1,0,1],[1,-1,-1,1],-1,n],
[[2,0,0,2],[0,-1,-2,-2],[-1,0,-1,0],[2,3,3,0],[-1,1,2,-1],[4,3,3,1],[3,2,0,0],[-4,-1,-4,-2],[3,1,1,3],[2,1,2,1],[-2,-1,0,-1],[0,0,1,0],[0,0,0,1],[2,1,-1,-1],[0,-1,0,0],[-1,2,-1,0],[4,1,0,1],[2,1,2,1],[2,1,1,0],[2,1,1,1],[-5,-2,-4,-5]],
[[0,0,0,0],[2,0,1,1],[5,4,4,5],[2,3,3,2],[4,3,3,5],[4,3,3,3],[0,1,1,1],[1,2,1,2],[4,4,3,3],[0,3,4,3],[-2,2,1,0],[2,2,2,0],[4,5,5,5],[3,5,4,5],-1,[3,3,3,5],[-2,1,1,1],[5,4,5,5],[3,1,1,3],[3,3,3,3],[-3,0,0,0]],
[[-2,-1,-1,-1],n,n,n,n,n,n,n,n,n,n,n,n,[-3,-2,-2,-1],n,[-2,0,1,-1],n,[-1,1,2,0],n,[1,1,1,1],n],
[[-4,-4,-3,-4],[-3,-3,-2,-3],[-3,-3,-3,-2],[-3,-3,-2,-4],[-2,-3,-2,-2],[-4,-4,-4,-4],[-2,-3,-1,-2],[1,1,1,2],[-2,-2,-2,-3],[-2,-3,-1,-2],[-1,-3,-1,0],n,n,[-2,-4,-3,-2],[-3,-2,-3,-3],[-2,-2,-1,-1],[-2,-2,-4,-2],[-3,-2,-2,-3],n,[-1,-1,0,-1],[-6,-6,-5,-5]],
[[-1,-1,-1,-2],[-2,-3,-4,-3],[-1,-2,-3,-1],[1,0,-1,0],[-1,-2,-1,-1],[-1,-1,-2,-1],[-3,-4,-4,-2],[2,1,1,2],[-1,-2,-3,-2],[-3,-4,-3,-2],[-2,-3,-2,-1],[1,1,1,1],[-3,-2,-1,-1],[2,-1,-1,1],-2,[1,-1,-1,1],[-2,-1,-4,-2],[0,-1,-1,-1],[0,-1,-1,0],-1,[-4,-5,-5,-4]],
[-2,-2,[-2,-3,-3,-1],[0,-1,-1,1],[-2,-2,-3,-1],[-2,-2,-4,-1],[-2,-3,-3,-2],[1,1,2,2],[0,-1,-1,-1],[-2,-2,-3,-1],[-2,-3,-2,-2],n,n,[-1,-2,-1,1],[1,1,-1,0],[1,1,-1,-1],n,[-1,-3,-1,-2],n,-2,n],
[[-1,-1,0,0],[-1,-1,0,-1],[-1,-1,1,-1],[-1,-1,0,0],[-2,-1,-1,0],[-1,-2,-1,-1],[-3,-2,-1,-2],[-1,-6,-3,0],[-3,-3,-3,-3],[-4,-3,-2,-2],[-3,-4,-3,-3],n,n,[1,0,0,0],[-2,-3,-2,-1],[0,0,0,1],[-3,-3,-1,-2],[-4,-3,-3,-3],[-3,-2,-1,-2],[-3,-2,-1,-2],n],
[[-1,0,0,0],[-1,-1,-1,0],[-4,-3,-2,-2],[-1,-1,0,0],[-2,-1,-2,-1],[-2,-1,-1,-2],[-2,-2,-1,-1],[-1,-6,-3,-1],[-3,-3,-3,-3],[-4,-3,-4,-3],[-3,-4,-3,-3],[-4,-4,-4,-4],[-5,-5,-4,-4],[-2,-3,-2,-3],[-2,-2,-2,-2],[-1,-1,0,-2],[-3,-3,-1,-2],[-4,-3,-3,-2],[-2,-1,-1,-2],[-1,-3,-2,-1],n]
];
</script>
<script>
const SVG_NS = "http://www.w3.org/2000/svg";
const svg = document.getElementById("chart");
const panels = [
  {key:"cmip5", title:"(a) CMIP5", models:models5, values:values5, left:184.4, top:109.4, cell:20.57, titleX:400},
  {key:"cmip6", title:"(b) CMIP6", models:models6, values:values6, left:848.6, top:109.4, cell:19.39, titleX:1052}
];
function make(tag, attrs, text, parent){
  const el = document.createElementNS(SVG_NS, tag);
  for (const k in attrs) el.setAttribute(k, attrs[k]);
  if (text !== undefined && text !== null) el.textContent = text;
  (parent || svg).appendChild(el);
  return el;
}
function colorFor(bin){
  if (bin === null) return "#d3d3d3";
  const value = (bin + 0.5) / 10;
  const idx = Math.floor(value * 10) + 6;
  return colorBins[Math.max(0, Math.min(colorBins.length - 1, idx))];
}
function drawPanel(p){
  const xScale = i => p.left + i * p.cell;
  const yScale = j => p.top + j * p.cell;
  const w = variables.length * p.cell, h = p.models.length * p.cell;
  const g = make("g", {});
  
  
  const title = make("text", {x:p.titleX, y:37, "text-anchor":"middle", "font-size":"34.5"}, p.title);
  
  
  p.values.forEach((row, j) => {
    row.forEach((cell, i) => {
      const quad = Array.isArray(cell) ? cell : [cell, cell, cell, cell];
      const x0 = xScale(i), x1 = xScale(i + 1), y0 = yScale(j), y1 = yScale(j + 1);
      const cx = (x0 + x1) / 2, cy = (y0 + y1) / 2;
      const corners = [
        [[x0,y0],[x1,y0]],
        [[x1,y0],[x1,y1]],
        [[x1,y1],[x0,y1]],
        [[x0,y1],[x0,y0]]
      ];
      quad.forEach((bin, s) => {
        const c = corners[s];
        const pts = c[0].map(v => v.toFixed(2)).join(",") + " " + c[1].map(v => v.toFixed(2)).join(",") + " " + cx.toFixed(2) + "," + cy.toFixed(2);
        const tri = make("polygon", {points:pts, fill:colorFor(bin), stroke:"#fff", "stroke-width":"0.45", "stroke-opacity":"0.42"}, null, g);
        
        
      });
    });
  });
  const frame = make("rect", {x:p.left, y:p.top, width:w, height:h, fill:"none", stroke:"#000", "stroke-width":"1.1"});
  
  
  variables.forEach((name, i) => {
    const x = xScale(i + 0.5);
    const tickTop = make("line", {x1:x, x2:x, y1:p.top, y2:p.top - 4.9, stroke:"#000", "stroke-width":"1.1"});
    
    
    const tickBot = make("line", {x1:x, x2:x, y1:p.top + h, y2:p.top + h + 4.9, stroke:"#000", "stroke-width":"1.1"});
    
    
    const topLab = make("text", {"font-size":"18", "text-anchor":"start", transform:"translate(" + (x + 3.5) + "," + (p.top - 8) + ") rotate(-60)"}, name);
    
    
    const botLab = make("text", {"font-size":"18", "text-anchor":"end", transform:"translate(" + (x + 7) + "," + (p.top + h + 10) + ") rotate(-60)"}, name);
    
    
  });
  p.models.forEach((name, j) => {
    const y = yScale(j + 0.5);
    const tick = make("line", {x1:p.left, x2:p.left - 4.9, y1:y, y2:y, stroke:"#000", "stroke-width":"1.1"});
    
    
    const lab = make("text", {x:p.left - 9.5, y:y + 6.6, "text-anchor":"end", "font-size":"18"}, name);
    
    
  });
}
panels.forEach(drawPanel);

/* colorbar */
const cbLeft = 204, cbRight = 597, cbTop = 995, cbBottom = 1015;
const cbScale = v => cbLeft + (v + 0.5) * (cbRight - cbLeft);
const cb = make("g", {});


const under = make("polygon", {points:cbLeft + "," + cbTop + " " + cbLeft + "," + cbBottom + " 184.5," + (cbTop + cbBottom) / 2, fill:colorBins[0]}, null, cb);


const over = make("polygon", {points:cbRight + "," + cbTop + " " + cbRight + "," + cbBottom + " 616," + (cbTop + cbBottom) / 2, fill:colorBins[11]}, null, cb);


for (let b = 1; b <= 10; b++) {
  const lo = (b - 6) / 10;
  const seg = make("rect", {x:cbScale(lo), y:cbTop, width:cbScale(lo + 0.1) - cbScale(lo) + 0.3, height:cbBottom - cbTop, fill:colorBins[b]}, null, cb);
  
  
}
const cbOutline = make("polygon", {points:"184.5,1005 204,995 597,995 616,1005 597,1015 204,1015", fill:"none", stroke:"#000", "stroke-width":"1.1"}, null, cb);


colorbarTicks.forEach(v => {
  const x = cbScale(v);
  const t = make("line", {x1:x, x2:x, y1:cbBottom, y2:cbBottom + 4.9, stroke:"#000", "stroke-width":"1.1"}, null, cb);
  
  
  const label = (v < 0 ? "\u2212" : "") + Math.abs(v).toFixed(1);
  const l = make("text", {x:x, y:1038, "text-anchor":"middle", "font-size":"16"}, label, cb);
  
  
});
const cbLabel = make("text", {x:400, y:1062, "text-anchor":"middle", "font-size":"20.8"}, "RMSE, normalized by median", cb);



/* season key */
const key = make("g", {});


const keyBox = make("rect", {x:184.5, y:1137.5, width:164, height:164, fill:"none", stroke:"#000", "stroke-width":"1.1"}, null, key);


const diagA = make("line", {x1:184.5, y1:1137.5, x2:348.5, y2:1301.5, stroke:"#000", "stroke-width":"1.1"}, null, key);


const diagB = make("line", {x1:348.5, y1:1137.5, x2:184.5, y2:1301.5, stroke:"#000", "stroke-width":"1.1"}, null, key);


const seasonDJF = make("text", {x:267, y:1177, "text-anchor":"middle", "font-size":"20.8"}, "DJF", key);


const seasonMAM = make("text", {x:316, y:1226, "text-anchor":"middle", "font-size":"20.8"}, "MAM", key);


const seasonJJA = make("text", {x:267, y:1276, "text-anchor":"middle", "font-size":"20.8"}, "JJA", key);


const seasonSON = make("text", {x:217, y:1226, "text-anchor":"middle", "font-size":"20.8"}, "SON", key);


</script>
</body>
</html>
